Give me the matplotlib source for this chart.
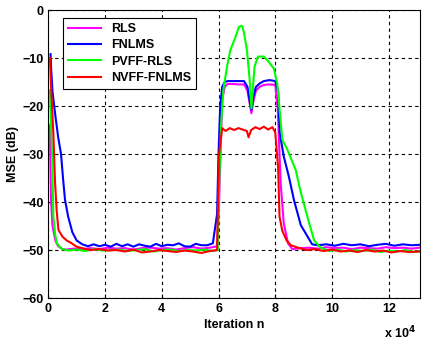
import matplotlib
matplotlib.use("Agg")
import matplotlib.pyplot as plt
from matplotlib.ticker import FuncFormatter

plt.rcParams["font.family"] = ["Liberation Sans", "DejaVu Sans"]
plt.rcParams["font.weight"] = "bold"

# MSE learning curves (x = iteration index, y = MSE in dB)
rls_x = [500, 1000, 1500, 2500, 3500, 5000, 6500, 9000, 12000, 15000, 18000,
         21000, 24000, 27000, 30000, 33000, 36000, 39000, 42000, 45000, 48000,
         51000, 54000, 57000, 59500, 60200, 61300, 62200, 63200, 65000, 67000,
         69000, 70200, 71000, 71600, 72300, 73200, 74500, 76000, 78000, 80000,
         80900, 81900, 83000, 84500, 86000, 89000, 92000, 95000, 98000, 101000,
         104000, 107000, 110000, 113000, 116000, 119000, 122000, 125000,
         128000, 131000]
rls_y = [-24.0, -40.0, -45.0, -48.0, -49.2, -49.8, -49.9, -49.7, -49.8, -49.6,
         -49.8, -49.5, -49.7, -49.6, -49.9, -49.6, -49.5, -49.7, -49.6, -49.9,
         -49.6, -49.4, -49.7, -49.5, -49.2, -40.0, -18.7, -16.0, -15.4, -15.4,
         -15.5, -15.5, -16.8, -19.5, -21.5, -19.0, -16.8, -16.0, -15.6, -15.5,
         -15.6, -20.8, -36.0, -44.4, -48.6, -49.8, -49.6, -49.5, -49.7, -49.4,
         -49.6, -49.5, -49.8, -49.5, -49.6, -49.7, -49.4, -49.6, -49.5, -49.7,
         -49.5]

fnlms_x = [800, 1000, 1500, 2500, 3500, 4500, 5200, 5900, 7000, 8500, 10000,
           12000, 14000, 16000, 18000, 20000, 22000, 24000, 26000, 28000,
           30000, 32000, 34000, 36000, 38000, 40000, 42000, 44000, 46000,
           48000, 50000, 52000, 54000, 56000, 58000, 59500, 60000, 60600,
           61300, 62200, 63200, 65000, 67000, 69000, 70200, 71000, 71600,
           72300, 73200, 74500, 76000, 78000, 80000, 81000, 81600, 83000,
           84800, 86600, 89000, 91400, 93000, 95000, 98000, 101000, 104000,
           107000, 110000, 113000, 116000, 119000, 122000, 125000, 128000,
           131000]
fnlms_y = [-9.2, -12.0, -17.0, -22.0, -26.5, -30.0, -35.0, -39.5, -43.0,
           -46.3, -48.0, -48.8, -49.2, -48.8, -49.2, -48.9, -49.3, -48.7,
           -49.2, -48.8, -49.3, -48.8, -49.1, -49.3, -48.7, -49.2, -48.9,
           -49.0, -48.6, -49.2, -49.3, -48.7, -49.0, -49.0, -48.6, -42.5,
           -30.0, -20.0, -16.0, -15.0, -14.8, -14.8, -14.8, -14.8, -16.0,
           -19.0, -20.8, -18.0, -16.0, -15.3, -14.8, -14.6, -14.8, -17.0,
           -25.7, -30.5, -34.7, -39.6, -44.8, -47.2, -48.8, -49.0, -48.8,
           -49.1, -48.7, -49.0, -48.8, -49.2, -48.9, -48.7, -49.1, -48.8,
           -49.0, -48.9]

pvff_x = [600, 1000, 1400, 1800, 2500, 3000, 4000, 5000, 7000, 10000, 13000,
          16000, 19000, 22000, 25000, 28000, 31000, 34000, 37000, 40000,
          43000, 46000, 49000, 52000, 55000, 58000, 59700, 60300, 60900,
          61700, 63000, 64200, 66000, 67200, 68300, 68900, 70000, 70900,
          71600, 72700, 73900, 76000, 77700, 79500, 80700, 82500, 84200,
          87200, 89000, 91300, 93700, 96000, 99000, 102000, 105000, 108000,
          111000, 114000, 117000, 120000, 123000, 126000, 129000, 131000]
pvff_y = [-16.7, -24.0, -31.0, -43.0, -47.0, -48.5, -49.3, -49.8, -50.1,
          -49.9, -50.2, -49.8, -50.1, -50.0, -49.9, -50.2, -50.0, -49.8,
          -50.3, -50.0, -49.9, -50.2, -50.0, -50.1, -49.9, -50.2, -50.0,
          -35.0, -24.0, -16.7, -11.8, -8.3, -5.6, -3.5, -3.3, -4.5, -8.3,
          -13.9, -20.5, -11.8, -9.7, -9.7, -10.8, -12.2, -15.3, -27.0,
          -29.0, -33.3, -38.0, -43.0, -48.0, -49.5, -50.2, -49.9, -50.3,
          -50.0, -50.2, -49.9, -50.4, -50.1, -50.3, -50.0, -50.4, -50.2]

nvff_x = [600, 1000, 1800, 2400, 3000, 3600, 5000, 6500, 8000, 10000, 12000,
          15000, 18000, 21000, 24000, 27000, 30000, 33000, 36000, 39000,
          42000, 45000, 48000, 51000, 54000, 57000, 59500, 60200, 61300,
          62500, 64000, 65500, 67000, 68500, 70000, 70600, 71500, 73000,
          74500, 76000, 77500, 79000, 80000, 81000, 81500, 82500, 84000,
          85500, 88000, 91000, 94000, 97000, 100000, 103000, 106000, 109000,
          112000, 115000, 118000, 121000, 124000, 127000, 131000]
nvff_y = [-10.0, -16.0, -25.7, -36.0, -42.0, -45.8, -47.2, -48.0, -48.5,
          -49.3, -49.6, -50.0, -49.8, -50.1, -50.0, -50.3, -49.9, -50.5,
          -50.3, -50.0, -50.2, -50.4, -50.1, -50.3, -50.6, -50.2, -50.0,
          -30.0, -24.6, -25.2, -24.6, -25.0, -24.6, -24.9, -25.2, -26.5,
          -25.0, -24.4, -24.8, -24.3, -24.9, -24.4, -25.5, -32.7, -43.0,
          -46.0, -48.0, -49.0, -49.5, -50.0, -49.8, -50.2, -49.9, -50.3,
          -50.1, -50.4, -50.0, -50.3, -50.1, -50.5, -50.2, -50.4, -50.3]

series = [("RLS", rls_x, rls_y, "#ff00ff"),
          ("FNLMS", fnlms_x, fnlms_y, "#0000ff"),
          ("PVFF-RLS", pvff_x, pvff_y, "#00ff00"),
          ("NVFF-FNLMS", nvff_x, nvff_y, "#ff0000")]

fig = plt.figure(figsize=(4.27, 3.45), dpi=100)
ax = fig.add_axes([0.113, 0.136, 0.871, 0.835])

for name, xs, ys, col in series:
    ax.plot(xs, ys, color=col, lw=1.5, label=name)

ax.set_xlim(0, 131072)
ax.set_ylim(-60, 0)
ax.set_xticks([0, 20000, 40000, 60000, 80000, 100000, 120000])
ax.xaxis.set_major_formatter(FuncFormatter(lambda v, p: f"{v / 1e4:g}"))
ax.set_yticks([-60, -50, -40, -30, -20, -10, 0])
ax.grid(True, color="black", linestyle=(0, (3, 3)), lw=0.8)
ax.tick_params(direction="in", labelsize=9, length=3, width=0.8)
for lab in ax.get_xticklabels() + ax.get_yticklabels():
    lab.set_fontweight("bold")
for sp in ax.spines.values():
    sp.set_linewidth(0.8)

ax.set_xlabel("Iteration n", fontsize=9, fontweight="bold", labelpad=3)
ax.set_ylabel("MSE (dB)", fontsize=9, fontweight="bold", labelpad=2)
ax.text(0.99, -0.092, r"x 10$^{4}$", transform=ax.transAxes, ha="right",
        va="top", fontsize=9, fontweight="bold")

leg = ax.legend(loc="upper left", bbox_to_anchor=(0.04, 0.972),
                prop={"weight": "bold", "size": 9}, handlelength=2.6,
                labelspacing=0.35, borderpad=0.4, fancybox=False,
                framealpha=1, edgecolor="black", borderaxespad=0)
leg.get_frame().set_linewidth(0.8)

fig.savefig("out.png", dpi=100)
